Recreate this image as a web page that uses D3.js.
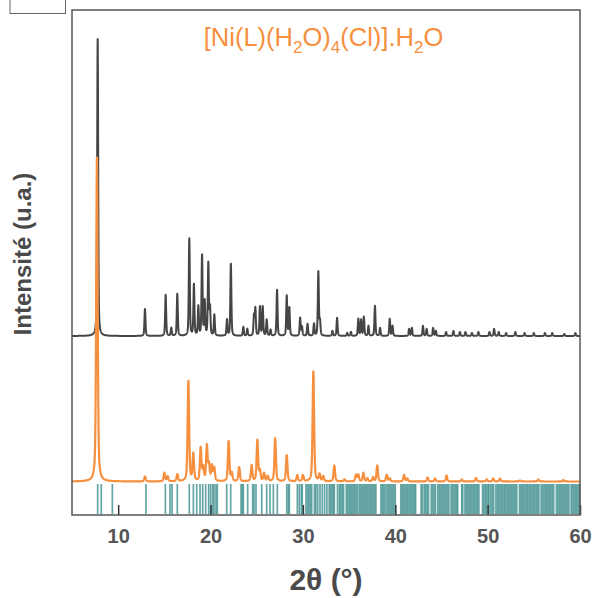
<!DOCTYPE html>
<html><head><meta charset="utf-8">
<script src="https://cdn.jsdelivr.net/npm/d3@7"></script>
<style>html,body{margin:0;padding:0;background:#fff;}svg{display:block;}</style>
</head><body>
<script>
// ---- DATA ----
// 2θ range
const xDomain = [5, 60];
const xTicks = [10, 20, 30, 40, 50, 60];
// baselines (a.u.)
const blackOffset = 179;
const orangeOffset = 33.5;
// experimental / upper pattern: peak positions (2θ) and heights (a.u.)
const blackPos = [7.78,12.9,15.14,15.75,16.4,17.7,18.2,18.68,19.08,19.37,19.76,19.94,20.41,21.78,22.2,23.55,23.98,24.7,24.85,25.35,25.65,26.08,26.5,27.2,28.25,28.53,29.7,29.9,30.5,31.2,31.67,31.85,33.2,33.7,34.8,35.2,36.0,36.3,36.6,37.1,37.8,38.35,39.4,39.7,41.5,41.8,43.0,43.4,44.1,44.4,45.5,46.3,47.0,47.6,48.3,49.0,50.2,50.7,51.2,52.0,53.0,54.0,55.0,56.2,57.0,58.3,59.5];
const blackInt = [297,27,41,8,42,97,51,29,80,34,72,27,21,16,72,9,7,20,27,29,29,16,6,46,40,28,18,9,12,12,64,14,5,18,3,4,17,16,19,10,30,8,17,10,7,8,10,7,8,5,4,5,4,4,3,4,4,7,4,3,4,3,3,3,3,2,3];
// lower pattern
const orangePos = [7.7,12.9,15.0,15.35,16.4,17.6,18.13,18.93,19.2,19.6,19.83,20.15,20.4,21.96,22.3,23.1,24.45,25.07,25.35,25.8,26.2,27.0,28.25,29.4,30.0,31.13,31.8,32.2,33.4,34.5,35.75,36.0,36.55,37.0,37.6,38.05,39.07,39.4,40.95,41.3,43.5,44.3,45.55,47.2,48.75,49.9,50.6,51.35,53.5,55.5,58.2];
const orangeInt = [324,5,8.5,5,7,100,27,33,13,35,16,15,13,40,8,14,16,41,10,8,5,43,26,6,6,110,7,5,16,2,6.5,6.5,8.5,3,4,16,6.5,3,6.5,3,4,3,6,2,3.5,2,3,3,1,2,1.5];
// reference (database) line positions, 2θ
const refLines = [7.78,8.17,9.37,13.01,15.11,15.61,15.83,16.4,17.7,18.14,18.5,18.86,19.15,19.47,19.8,20.01,20.23,20.37,20.59,20.73,21.75,22.18,23.3,23.44,23.55,24.02,24.56,24.7,24.92,25.54,26.08,26.44,26.8,27.23,28.25,28.42,28.53,29.4,29.61,29.83,29.93,30.33,
30.5,30.65,30.8,30.95,31.25,31.4,31.6,31.85,32.1,32.35,32.6,32.85,33.0,33.15,33.3,33.4,33.75,33.95,34.1,34.25,34.4,34.7,34.85,35.0,35.15,35.3,35.45,35.6,35.75,35.9,36.1,36.25,36.4,36.55,36.7,36.85,37.0,37.15,37.3,37.45,37.6,37.75,37.9,38.45,38.6,38.75,38.9,39.1,39.25,39.4,39.55,39.7,39.85,40.0,40.6,40.75,40.9,41.05,41.2,41.35,41.5,41.65,41.8,41.95,42.1,42.2,42.8,42.95,43.15,43.3,43.45,43.6,43.9,44.05,44.2,44.35,44.6,44.75,44.9,45.05,45.2,45.35,45.5,45.65,45.8,46.05,46.2,46.35,46.5,46.65,46.75,47.2,47.3,47.55,47.7,47.85,48.0,48.15,48.3,48.45,48.6,48.75,48.9,49.05,49.45,49.6,49.75,49.9,50.05,50.15,50.35,50.5,50.65,50.9,51.05,51.2,51.35,51.5,51.65,51.8,51.95,52.1,52.25,52.4,52.55,52.7,52.85,53.0,53.15,53.45,53.6,53.75,53.9,54.05,54.2,54.35,54.5,54.65,54.8,54.95,55.1,55.25,55.4,55.55,55.8,55.95,56.1,56.25,56.4,56.55,56.7,56.85,57.0,57.15,57.45,57.6,57.75,57.9,58.05,58.2,58.35,58.5,58.65,58.8,59.05,59.2,59.35,59.5,59.65,59.8,59.95];
const titleParts = [["[Ni(L)(H",""],["2","sub"],["O)",""],["4","sub"],["(Cl)].H",""],["2","sub"],["O",""]];
const yLabel = "Intensité (u.a.)";
const xLabel = "2θ (°)";

// ---- DRAW ----
const W = 596, H = 598;
const svg = d3.select("body").append("svg").attr("width", W).attr("height", H);
const x = d3.scaleLinear().domain(xDomain).range([72, 580]);
const y = d3.scaleLinear().domain([0, 505]).range([515, 10]);

function profile(pos, ints, w, eta, offset) {
  const pts = [];
  for (let t = xDomain[0]; t <= xDomain[1] + 1e-9; t += 0.01) {
    let s = offset;
    for (let i = 0; i < pos.length; i++) {
      const d = (t - pos[i]) / w;
      if (Math.abs(d) > 60) continue;
      const g = Math.exp(-4 * Math.LN2 * d * d);
      const l = 1 / (1 + 4 * d * d);
      s += ints[i] * (eta * l + (1 - eta) * g);
    }
    pts.push([t, s]);
  }
  return pts;
}

// reference lines
svg.append("g").selectAll("line").data(refLines).join("line")
  .attr("x1", d => x(d)).attr("x2", d => x(d))
  .attr("y1", 484).attr("y2", 514)
  .attr("stroke", "#4a9595").attr("stroke-width", 1.7).attr("stroke-opacity", 0.85);

const line = d3.line().x(d => x(d[0])).y(d => y(d[1]));
svg.append("path").datum(profile(blackPos, blackInt, 0.13, 0.45, blackOffset))
  .attr("d", line).attr("fill", "none").attr("stroke", "#454545").attr("stroke-width", 2)
  .attr("stroke-linejoin", "round");
svg.append("path").datum(profile(orangePos, orangeInt, 0.19, 0.5, orangeOffset))
  .attr("d", line).attr("fill", "none").attr("stroke", "#f68f3e").attr("stroke-width", 2.2)
  .attr("stroke-linejoin", "round");

// axis
const ax = d3.axisBottom(x).tickValues(xTicks).tickSizeInner(-10).tickSizeOuter(0).tickPadding(14).tickFormat(d3.format("d"));
const gx = svg.append("g").attr("transform", "translate(0,515)").call(ax);
gx.select(".domain").remove();
gx.selectAll(".tick line").attr("stroke", "#333").attr("stroke-width", 1.5);
gx.selectAll(".tick text").attr("font-family", "Liberation Sans, Arial, sans-serif")
  .attr("font-size", 20).attr("font-weight", "bold").attr("fill", "#555");

// frame
svg.append("rect").attr("x", 72).attr("y", 10).attr("width", 508).attr("height", 505)
  .attr("fill", "none").attr("stroke", "#555").attr("stroke-width", 1.5);
// small empty box top-left
svg.append("rect").attr("x", 10).attr("y", -2).attr("width", 55.5).attr("height", 15.5)
  .attr("fill", "none").attr("stroke", "#666").attr("stroke-width", 1);

// title
const tt = svg.append("text").attr("x", 323.5).attr("y", 46).attr("text-anchor", "middle")
  .attr("font-family", "Liberation Sans, Arial, sans-serif").attr("font-size", 25.5).attr("fill", "#f68f3e");
titleParts.forEach(([s, k]) => {
  const ts = tt.append("tspan").text(s);
  if (k === "sub") ts.attr("font-size", 17).attr("dy", 7);
  else ts.attr("dy", tt.selectAll("tspan").size() > 1 ? -7 : 0);
});

// y label
svg.append("text").attr("transform", "translate(31,254) rotate(-90)").attr("text-anchor", "middle")
  .attr("font-family", "Liberation Sans, Arial, sans-serif").attr("font-size", 24).attr("font-weight", "bold")
  .attr("fill", "#4a4a4a").text(yLabel);
// x label
svg.append("text").attr("x", 326).attr("y", 590).attr("text-anchor", "middle")
  .attr("font-family", "Liberation Sans, Arial, sans-serif").attr("font-size", 30).attr("font-weight", "bold")
  .attr("fill", "#4a4a4a").text(xLabel);
</script>
</body></html>
